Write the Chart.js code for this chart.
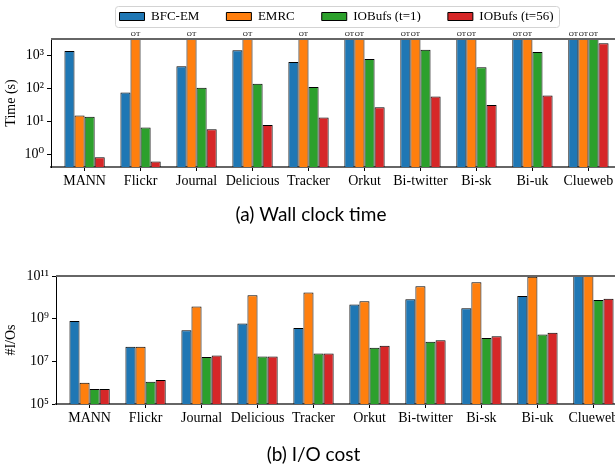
<!DOCTYPE html>
<html>
<head>
<meta charset="utf-8">
<script src="https://cdn.jsdelivr.net/npm/chart.js@4.4.1/dist/chart.umd.min.js"></script>
<style>
  html, body { margin: 0; padding: 0; background: #fff; overflow: hidden; }
  canvas { position: absolute; left: 0; }
  #timeChart { top: 0; }
  #ioChart { top: 230px; }
</style>
</head>
<body>
<canvas id="timeChart" width="628" height="230"></canvas>
<canvas id="ioChart" width="628" height="240"></canvas>
<script>
const seriesNames = ["BFC-EM", "EMRC", "IOBufs (t=1)", "IOBufs (t=56)"];
const graphs = ["MANN", "Flickr", "Journal", "Delicious", "Tracker", "Orkut", "Bi-twitter", "Bi-sk", "Bi-uk", "Clueweb"];
const colors = ["#1f77b4", "#ff7f0e", "#2ca02c", "#d62728"];

const OT = 3600; // timed out -> bar hits the top and gets an "OT" mark

/* wall clock time (s) */
const timeBfc   = [1320, 74, 455, 1390, 615, OT, OT, OT, OT, OT];
const timeEmrc  = [14.8, OT, OT, OT, OT, OT, OT, OT, OT, OT];
const timeIob1  = [13.5, 6.4, 102, 135, 107, 760, 1450, 425, 1240, OT];
const timeIob56 = [0.81, 0.6, 5.7, 7.7, 12.9, 26.5, 56, 30.5, 60, 2250];
const timeTicks = [1, 10, 100, 1000];

/* number of I/Os */
const ioBfc   = [7.8e8, 4.8e7, 2.9e8, 5.9e8, 3.7e8, 4.6e9, 8.2e9, 3.1e9, 1.17e10, 1.2e11];
const ioEmrc  = [1.0e6, 4.8e7, 3.7e9, 1.26e10, 1.7e10, 6.6e9, 3.3e10, 5.1e10, 9.3e10, 1.2e11];
const ioIob1  = [5.0e5, 1.1e6, 1.6e7, 1.7e7, 2.3e7, 4.3e7, 8.2e7, 1.25e8, 1.8e8, 7.4e9];
const ioIob56 = [5.0e5, 1.35e6, 1.9e7, 1.7e7, 2.3e7, 5.4e7, 9.8e7, 1.5e8, 2.2e8, 8.5e9];
const ioTicks = [1e5, 1e7, 1e9, 1e11];

Chart.defaults.font.family = "'Liberation Serif', 'DejaVu Serif', serif";
Chart.defaults.color = "#000";

const SUP = "⁰¹²³⁴⁵⁶⁷⁸⁹";
function pow10Label(v) {
  const e = Math.round(Math.log10(v));
  return "10" + String(e).split("").map(d => SUP[+d]).join("");
}

/* ---------- plugins ---------- */
const frame = {
  id: "frame",
  afterDatasetsDraw(chart) {
    const a = chart.chartArea, ctx = chart.ctx;
    ctx.save();
    ctx.strokeStyle = "#666";
    ctx.lineWidth = 2;
    ctx.beginPath();
    ctx.moveTo(a.left, a.top);
    ctx.lineTo(a.right, a.top);
    ctx.lineTo(a.right, a.bottom);
    ctx.stroke();
    ctx.restore();
  }
};

const otLabels = {
  id: "otLabels",
  afterDatasetsDraw(chart) {
    const ctx = chart.ctx;
    ctx.save();
    ctx.font = "7px 'Liberation Serif', serif";
    ctx.fillStyle = "#000";
    ctx.textAlign = "center";
    ctx.textBaseline = "bottom";
    chart.data.datasets.forEach((ds, di) => {
      chart.getDatasetMeta(di).data.forEach((bar, i) => {
        if (ds.data[i].y === OT) ctx.fillText("OT", bar.x, chart.chartArea.top - 1);
      });
    });
    ctx.restore();
  }
};

// move legend row up so text sits at y=16.5 and draw a matplotlib-like frame
const legendBox = {
  id: "legendBox",
  afterLayout(chart) {
    const lg = chart.legend;
    if (!lg || !lg.options.display) return;
    const dy = lg.top + lg.options.labels.padding + 6.5 - 16.5;
    lg.top -= dy;
    lg.bottom -= dy;
  },
  afterDraw(chart) {
    const lg = chart.legend;
    if (!lg || !lg.options.display) return;
    const hb = lg.legendHitBoxes;
    const last = hb[hb.length - 1];
    const l = hb[0].left - 5, r = last.left + last.width + 5;
    const cy = hb[0].top + hb[0].height / 2;
    const ctx = chart.ctx;
    ctx.save();
    ctx.strokeStyle = "#d3d3d3";
    ctx.lineWidth = 1;
    ctx.beginPath();
    ctx.roundRect(Math.round(l) + 0.5, Math.round(cy - 10.5) + 0.5, Math.round(r - l), 21, 3);
    ctx.stroke();
    ctx.restore();
  }
};

/* ---------- chart builder ---------- */
function makeChart(id, series, cfg) {
  return new Chart(document.getElementById(id), {
    type: "bar",
    data: {
      datasets: series.map((arr, k) => ({
        label: seriesNames[k],
        data: arr.map((v, i) => ({ x: i, y: v })),
        backgroundColor: colors[k],
        borderColor: "#000",
        borderWidth: 1,
        clip: 0,
        categoryPercentage: 0.72,
        barPercentage: 1
      }))
    },
    options: {
      responsive: false,
      animation: false,
      layout: { padding: cfg.padding },
      plugins: {
        tooltip: { enabled: false },
        legend: {
          display: cfg.legend,
          position: "top",
          fullSize: false,
          maxHeight: 39,
          labels: { boxWidth: 25, boxHeight: 8, padding: 27, font: { size: 13 }, color: "#000" }
        },
        title: {
          display: true,
          position: "bottom",
          text: cfg.caption,
          color: "#000",
          font: { family: "Lato, 'Open Sans', sans-serif", size: 19, weight: "normal" },
          padding: cfg.captionPad
        }
      },
      scales: {
        x: {
          type: "linear",
          min: -0.6,
          max: 9.6,
          offset: false,
          afterBuildTicks: s => { s.ticks = graphs.map((_, i) => ({ value: i })); },
          afterFit: s => { s.height = 30; },
          ticks: {
            callback: v => graphs[v],
            font: { size: 14 },
            padding: 2,
            maxRotation: 0,
            autoSkip: false
          },
          grid: { drawOnChartArea: false, offset: false, tickLength: 4, color: "#000" },
          border: { color: "#666", width: 2 }
        },
        y: {
          type: "logarithmic",
          min: cfg.min,
          max: cfg.max,
          afterBuildTicks: s => { s.ticks = cfg.ticks.map(v => ({ value: v })); },
          afterFit: s => { s.width = cfg.yWidth; },
          ticks: { callback: v => pow10Label(v), font: { size: 14 }, padding: 3 },
          grid: { drawOnChartArea: false, tickLength: 4, color: "#000" },
          border: { color: "#000", width: 1 },
          title: { display: true, text: cfg.yTitle, font: { size: 14 }, padding: { top: 3, bottom: 3 } }
        }
      }
    },
    plugins: [frame, otLabels, legendBox]
  });
}

makeChart("timeChart", [timeBfc, timeEmrc, timeIob1, timeIob56], {
  legend: true,
  caption: "(a) Wall clock time",
  captionPad: { top: 6, bottom: 4.2 },
  padding: { top: 0, left: 0, right: 6, bottom: 0 },
  min: 0.41, max: 3050, ticks: timeTicks,
  yWidth: 51, yTitle: "Time (s)"
});

makeChart("ioChart", [ioBfc, ioEmrc, ioIob1, ioIob56], {
  legend: false,
  caption: "(b) I/O cost",
  captionPad: { top: 9.6, bottom: 3.6 },
  padding: { top: 46, left: 0, right: 1, bottom: 0 },
  min: 1e5, max: 1e11, ticks: ioTicks,
  yWidth: 56, yTitle: "#I/Os"
});
</script>
</body>
</html>
